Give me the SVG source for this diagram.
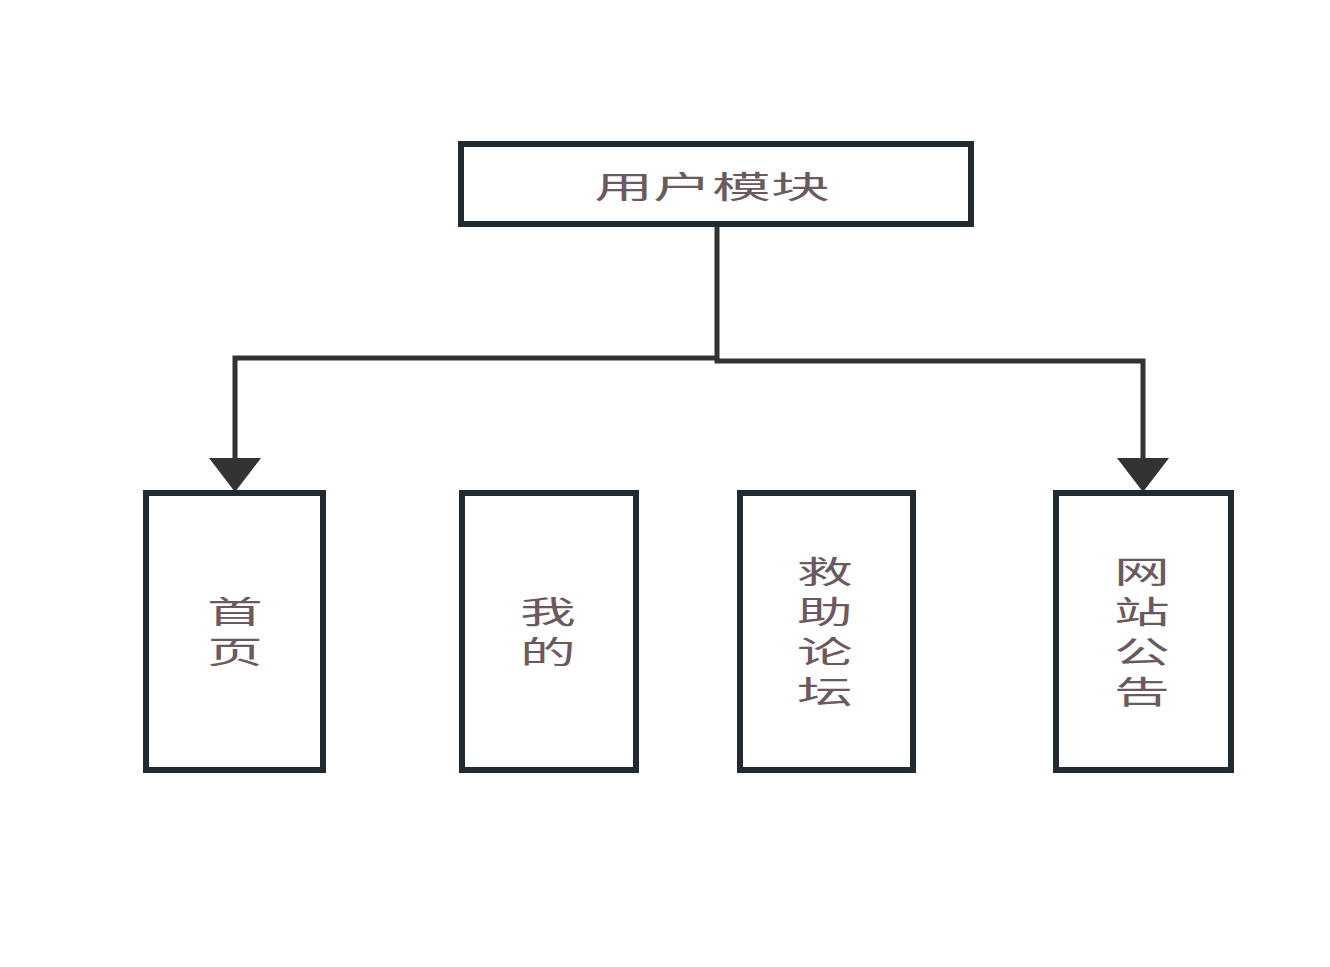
<svg xmlns="http://www.w3.org/2000/svg" width="1330" height="967" viewBox="0 0 1330 967">
<style>
.box{fill:#ffffff;stroke:#222a31;stroke-width:6}
.lbl{font-family:"Noto Sans CJK SC","Liberation Sans",sans-serif;font-size:31px;fill:#6a5a60;text-anchor:middle}
.vl{font-family:"Noto Sans CJK SC","Liberation Sans",sans-serif;font-size:31px;fill:#6a5a60;writing-mode:vertical-rl;letter-spacing:9px}
.conn{fill:none;stroke:#333333;stroke-width:5}
</style>
<rect width="1330" height="967" fill="#ffffff"/>
<g id="connectors">
<polyline class="conn" points="717,226 717,358 235,358 235,462"/>
<polyline class="conn" points="717,358 717,361 1143,361 1143,462"/>
<polygon points="209,458 261,458 235,492" fill="#333333"/>
<polygon points="1117,458 1169,458 1143,492" fill="#333333"/>
</g>
<g id="node-user">
<rect class="box" x="461" y="144" width="510" height="80"/>
<g transform="translate(712,0) scale(1.9,1)"><text class="lbl" x="0" y="198">用户模块</text></g>
</g>
<g id="node-home">
<rect class="box" x="146" y="493" width="177" height="277"/>
<g transform="translate(235,0) scale(1.8,1)"><text class="vl" x="0" y="596">首页</text></g>
</g>
<g id="node-mine">
<rect class="box" x="462" y="493" width="174" height="277"/>
<g transform="translate(548,0) scale(1.8,1)"><text class="vl" x="0" y="596">我的</text></g>
</g>
<g id="node-forum">
<rect class="box" x="740" y="493" width="173" height="277"/>
<g transform="translate(825,0) scale(1.8,1)"><text class="vl" x="0" y="556">救助论坛</text></g>
</g>
<g id="node-notice">
<rect class="box" x="1056" y="493" width="175" height="277"/>
<g transform="translate(1142,0) scale(1.8,1)"><text class="vl" x="0" y="556">网站公告</text></g>
</g>
</svg>
